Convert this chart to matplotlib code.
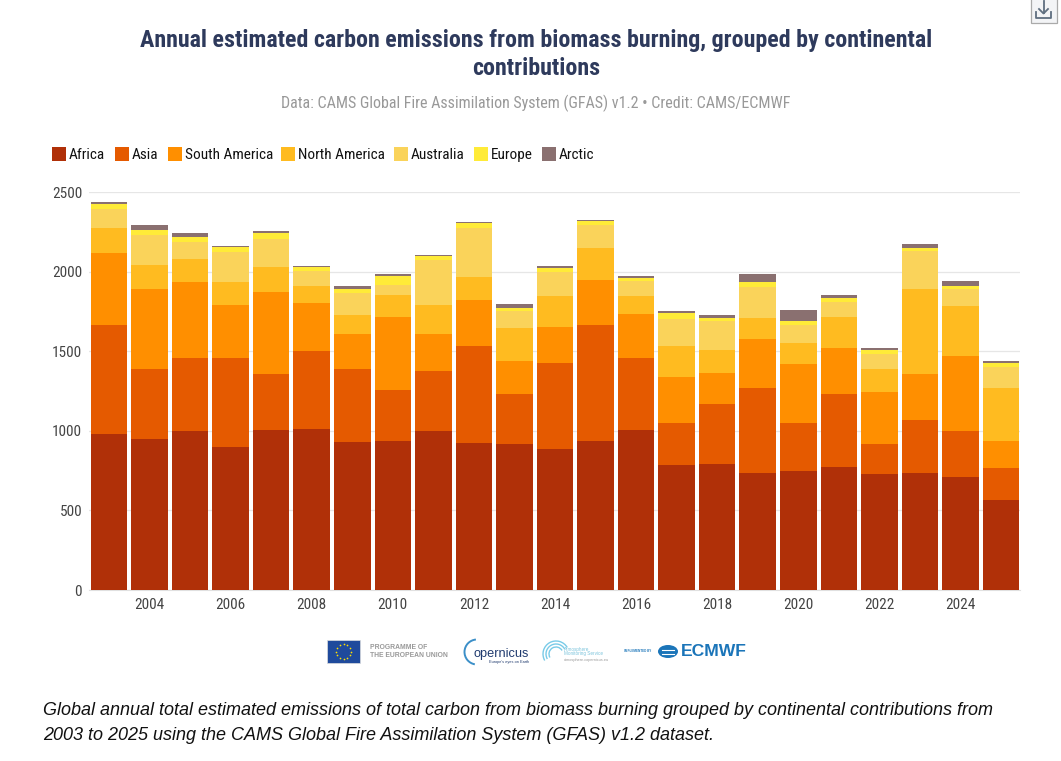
import numpy as np
import matplotlib
matplotlib.use("Agg")
import matplotlib.pyplot as plt
from matplotlib import font_manager
from matplotlib.patches import Rectangle, Arc, Ellipse

years = list(range(2003, 2026))

africa = [981, 949, 1000, 899, 1006, 1012, 930, 937, 1000, 924, 918, 886, 937, 1006, 786, 792, 735, 748, 773, 729, 735, 710, 566]
asia = [685, 440, 459, 559, 352, 490, 459, 321, 377, 610, 314, 541, 729, 453, 264, 377, 534, 302, 459, 189, 333, 289, 201]
south_america = [453, 503, 478, 333, 515, 302, 220, 459, 233, 289, 207, 226, 283, 277, 289, 195, 308, 371, 289, 327, 289, 471, 170]
north_america = [157, 151, 145, 145, 157, 107, 119, 138, 182, 145, 207, 195, 201, 113, 195, 145, 132, 132, 195, 145, 534, 314, 333]
australia = [119, 189, 107, 189, 176, 94, 138, 63, 283, 308, 107, 151, 145, 94, 170, 182, 195, 113, 94, 94, 239, 107, 132]
europe = [31, 31, 31, 31, 38, 25, 25, 57, 25, 31, 19, 25, 25, 19, 38, 19, 31, 25, 25, 25, 19, 19, 25]
arctic = [13, 31, 25, 6, 13, 9, 19, 13, 6, 6, 25, 13, 6, 13, 13, 19, 50, 69, 19, 13, 25, 31, 13]

series_names = ["Africa", "Asia", "South America", "North America", "Australia", "Europe", "Arctic"]
series_values = [africa, asia, south_america, north_america, australia, europe, arctic]
colors = ["#B03008", "#E55A00", "#FF8F00", "#FFBB20", "#FAD35A", "#FFEB38", "#8A7070"]
legend_x = [52, 115, 168, 281, 394, 474, 542]

W, H = 1061, 761

# Roboto Condensed if the machine has it, otherwise plain Roboto set smaller
installed = {f.name for f in font_manager.fontManager.ttflist}
if "Roboto Condensed" in installed:
    plt.rcParams["font.family"] = ["Roboto Condensed", "DejaVu Sans"]
    fs = 1.0
else:
    plt.rcParams["font.family"] = ["Roboto", "DejaVu Sans"]
    fs = 0.86

fig = plt.figure(figsize=(W / 100, H / 100), dpi=100)
ax = fig.add_axes([89 / W, 1 - 590 / H, (1020 - 89) / W, (590 - 192.3) / H])

# Stacked bars
bottom = np.zeros(len(years))
for name, values, color in zip(series_names, series_values, colors):
    ax.bar(years, values, width=0.9, bottom=bottom, color=color, label=name, zorder=3)
    bottom += np.array(values)

ax.set_ylim(0, 2500)
ax.set_xlim(2002.507, 2025.469)
ax.set_yticks(range(0, 2501, 500))
ax.set_xticks(range(2004, 2025, 2))
ax.grid(axis="y", color="#E6E6E6", linewidth=0.9, zorder=0)
ax.tick_params(length=0, labelsize=11 * fs, labelcolor="#444444")
ax.tick_params(axis="y", pad=5)
ax.tick_params(axis="x", pad=6)
for side in ["top", "right", "left"]:
    ax.spines[side].set_visible(False)
ax.spines["bottom"].set_color("#E0E0E0")

# Overlay in pixel coordinates for the page furniture
page = fig.add_axes([0, 0, 1, 1], zorder=5)
page.set_xlim(0, W)
page.set_ylim(H, 0)
page.axis("off")

title_color = "#2E3A5C"
page.text(536, 40.5, "Annual estimated carbon emissions from biomass burning, grouped by continental",
          ha="center", va="center", fontsize=17.25 * fs, fontweight="bold", color=title_color)
page.text(536, 68.5, "contributions", ha="center", va="center", fontsize=17.25 * fs, fontweight="bold", color=title_color)
page.text(536, 103, "Data: CAMS Global Fire Assimilation System (GFAS) v1.2 • Credit: CAMS/ECMWF",
          ha="center", va="center", fontsize=11.55 * fs, color="#999999")

# Legend
for name, color, x in zip(series_names, colors, legend_x):
    page.add_patch(Rectangle((x, 147), 14, 14, facecolor=color, edgecolor="none"))
    page.text(x + 17, 155, name, ha="left", va="center", fontsize=11 * fs, color="#111111")

# Caption
sans = ["Liberation Sans", "DejaVu Sans"]
page.text(43, 710.5, "Global annual total estimated emissions of total carbon from biomass burning grouped by continental contributions from",
          ha="left", va="center", fontsize=13, style="italic", family=sans, color="#111111")
page.text(43, 736, "2003 to 2025 using the CAMS Global Fire Assimilation System (GFAS) v1.2 dataset.",
          ha="left", va="center", fontsize=13, style="italic", family=sans, color="#111111")

# Logos
page.add_patch(Rectangle((327, 640), 33, 23, facecolor="#1F4A9C", edgecolor="#DDDDDD", linewidth=0.5))
angles = np.arange(12) * np.pi / 6
page.scatter(343.5 + 7.5 * np.cos(angles), 651.5 + 7.5 * np.sin(angles), s=1.5, color="#FFE000", linewidths=0)
page.text(370, 647.5, "PROGRAMME OF", fontsize=4.9, fontweight="bold", color="#999999", family=sans, va="center")
page.text(370, 655.5, "THE EUROPEAN UNION", fontsize=4.9, fontweight="bold", color="#999999", family=sans, va="center")

page.add_patch(Arc((477, 652), 25, 25, theta1=100, theta2=265, color="#3B8FC8", linewidth=1.4))
page.text(473, 653.5, "opernicus", fontsize=9.2, color="#1F3A6E", family=sans, va="center")
page.text(489, 662.5, "Europe's eyes on Earth", fontsize=2.8, color="#1F3A6E", family=sans, va="center")

for r in [26, 20, 14]:
    page.add_patch(Arc((556, 654), r, r, theta1=150, theta2=330, color="#79CBE8", linewidth=1))
page.text(564, 649, "Atmosphere", fontsize=3.3, color="#7CC4DC", family=sans, va="center")
page.text(564, 653.5, "Monitoring Service", fontsize=3.3, color="#7CC4DC", family=sans, va="center")
page.text(564, 660, "atmosphere.copernicus.eu", fontsize=2.8, color="#999999", family=sans, va="center")

page.text(624, 651, "IMPLEMENTED BY", fontsize=2.2, fontweight="bold", color="#1B75B9", family=sans, va="center")
page.add_patch(Ellipse((668, 651.5), 20, 13, facecolor="#1B75B9", edgecolor="none"))
page.plot([662, 674], [649.5, 649.5], color="white", linewidth=0.8)
page.plot([662, 674], [653.5, 653.5], color="white", linewidth=0.8)
page.text(681, 651.5, "ECMWF", fontsize=12.6, fontweight="bold", color="#1B75B9", family=sans, va="center")

# Download button
page.add_patch(Rectangle((1030.5, -2), 26, 24.5, facecolor="#F3F4F6", edgecolor="#AAAAAA", linewidth=0.9))
icon = "#5F6F80"
page.plot([1043.5, 1043.5], [1, 13], color=icon, linewidth=1.3)
page.plot([1039, 1043.5, 1048], [9, 13.5, 9], color=icon, linewidth=1.3)
page.plot([1036, 1036, 1051, 1051], [12, 17.5, 17.5, 12], color=icon, linewidth=1.3)

fig.savefig("out.png", dpi=100, facecolor="white")
